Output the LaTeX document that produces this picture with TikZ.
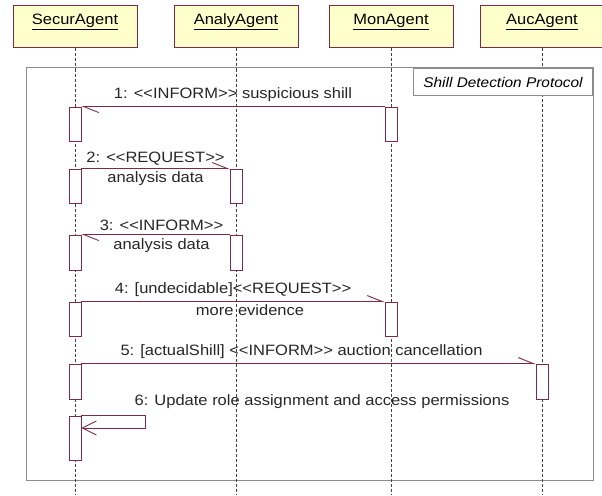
\documentclass[tikz,border=0pt]{standalone}
\usepackage{fontspec}
\setmainfont{Liberation Sans}[FakeStretch=1.1]
\usetikzlibrary{arrows.meta}

\definecolor{boxred}{RGB}{128,40,72}
\definecolor{boxfill}{RGB}{255,255,204}
\definecolor{framegray}{RGB}{140,140,140}

\begin{document}
\begin{tikzpicture}[x=1pt, y=-1pt,
    agent/.style={draw=boxred, fill=boxfill, line width=1pt, minimum width=124pt, inner ysep=0pt,
      text height=19pt, text depth=23pt, font=\fontsize{15}{18}\selectfont},
    lifeline/.style={line width=0.9pt, dash pattern=on 3pt off 2pt, black!75},
    act/.style={draw=boxred, fill=white, line width=0.9pt, minimum width=12pt, inner sep=0pt},
    msg/.style={draw=boxred, line width=0.9pt, -{Straight Barb[harpoon, length=15pt, width=12pt]}},
    selfmsg/.style={draw=boxred, line width=0.9pt, -{Straight Barb[length=14pt, width=14pt]}},
    msgtext/.style={font=\fontsize{15}{18}\selectfont, inner sep=1pt, text=black!85},
    frame/.style={draw=framegray, line width=1pt}]
  \useasboundingbox (0,0) rectangle (602,495);

  % agents
  \node[agent] (secur) at (75,27) {\underline{SecurAgent}};
  \node[agent] (analy) at (236,27) {\underline{AnalyAgent}};
  \node[agent] (mon) at (391,27) {\underline{MonAgent}};
  \node[agent] (auc) at (542,27) {\underline{AucAgent}};

  \coordinate (securend) at (75,495);
  \coordinate (analyend) at (236,495);
  \coordinate (monend) at (391,495);
  \coordinate (aucend) at (542,495);

  % combined fragment
  \draw[frame] (26,68) rectangle (593,480);

  \draw[lifeline] (secur) -- (securend);
  \draw[lifeline] (analy) -- (analyend);
  \draw[lifeline] (mon) -- (monend);
  \draw[lifeline] (auc) -- (aucend);

  \node[frame, fill=white, anchor=north east, minimum width=179pt, minimum height=27pt,
    font=\itshape\fontsize{14}{16}\selectfont] (protocol) at (593,68) {Shill Detection Protocol};

  % activations
  \node[act, minimum height=34pt] (a1s) at (75,124) {};
  \node[act, minimum height=34pt] (a1m) at (391,124) {};
  \node[act, minimum height=34pt] (a2s) at (75,186) {};
  \node[act, minimum height=34pt] (a2a) at (236,186) {};
  \node[act, minimum height=35pt] (a3s) at (75,252.5) {};
  \node[act, minimum height=35pt] (a3a) at (236,252.5) {};
  \node[act, minimum height=34pt] (a4s) at (75,319) {};
  \node[act, minimum height=34pt] (a4m) at (391,319) {};
  \node[act, minimum height=35pt] (a5s) at (75,381.5) {};
  \node[act, minimum height=35pt] (a5u) at (542,381.5) {};
  \node[act, minimum height=44pt] (a6s) at (75,438) {};

  % messages
  \draw[msg] (a1m.north west) -- (a1s.north east)
    node[msgtext, midway, above=3pt] {1: <{}<INFORM>{}> suspicious shill};
  \draw[msg] (a2s.north east) -- (a2a.north west)
    node[msgtext, midway, above=2pt] {2: <{}<REQUEST>{}>}
    node[msgtext, midway, below=2pt] {analysis data};
  \draw[msg] (a3a.north west) -- (a3s.north east)
    node[msgtext, midway, above=2pt, xshift=6pt] {3: <{}<INFORM>{}>}
    node[msgtext, midway, below=3pt, xshift=6pt] {analysis data};
  \draw[msg] (a4s.north east) -- (a4m.north west)
    node[msgtext, midway, above=3pt] {4: [undecidable]<{}<REQUEST>{}>}
    node[msgtext, midway, below=2pt, xshift=17pt] {more evidence};
  \draw[msg] (a5s.north east) -- (a5u.north west)
    node[msgtext, midway, above=3pt, xshift=-7pt] {5: [actualShill] <{}<INFORM>{}> auction cancellation};

  \coordinate (selfturn) at (145,428);
  \draw[selfmsg] (a6s.north east) -| (selfturn) -- (a6s.east |- selfturn);
  \node[msgtext] (updtext) at (322,402) {6: Update role assignment and access permissions};
\end{tikzpicture}
\end{document}
